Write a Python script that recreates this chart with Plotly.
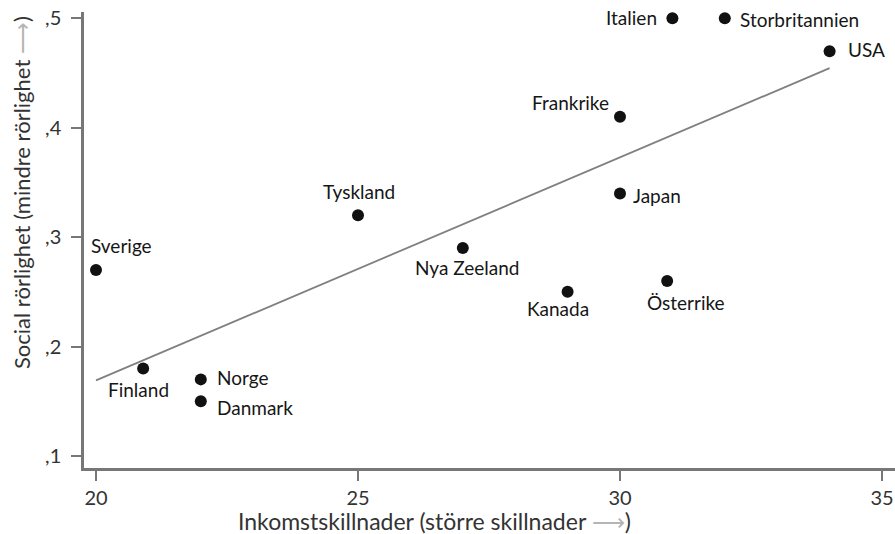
import numpy as np
import plotly.graph_objects as go

countries = ["Sverige", "Finland", "Norge", "Danmark", "Tyskland", "Nya Zeeland",
             "Kanada", "Österrike", "Japan", "Frankrike", "Italien", "Storbritannien", "USA"]
inequality = [20, 20.9, 22, 22, 25, 27, 29, 30.9, 30, 30, 31, 32, 34]
mobility = [0.27, 0.18, 0.17, 0.15, 0.32, 0.29, 0.25, 0.26, 0.34, 0.41, 0.50, 0.50, 0.47]

x_tickvals = [20, 25, 30, 35]
x_ticktext = ["20", "25", "30", "35"]
y_tickvals = [0.1, 0.2, 0.3, 0.4, 0.5]
y_ticktext = [",1", ",2", ",3", ",4", ",5"]

x_title = "Inkomstskillnader (större skillnader <span style='color:#b5b5b5'>⟶</span>)"
y_title = "Social rörlighet (mindre rörlighet <span style='color:#b5b5b5'>⟶</span>)"

# label placement (anchor, xshift, yshift) in pixels
label_pos = {
    "Sverige": ("left", -7, 24),
    "Finland": ("center", -5, -21),
    "Norge": ("left", 14, 2),
    "Danmark": ("left", 14, -6),
    "Tyskland": ("center", 1, 24),
    "Nya Zeeland": ("center", 4, -19),
    "Kanada": ("center", -10, -17),
    "Österrike": ("center", 19, -22),
    "Japan": ("left", 11, -2),
    "Frankrike": ("right", -9, 14),
    "Italien": ("right", -13, 1),
    "Storbritannien": ("left", 13, -1),
    "USA": ("left", 16, 2),
}

FONT = "Lato, 'Open Sans', sans-serif"

slope, intercept = np.polyfit(inequality, mobility, 1)
fx = [min(inequality), max(inequality)]
fy = [slope * v + intercept for v in fx]

fig = go.Figure()
fig.add_trace(go.Scatter(x=fx, y=fy, mode="lines",
                         line=dict(color="#808080", width=1.8),
                         hoverinfo="skip", showlegend=False))
fig.add_trace(go.Scatter(x=inequality, y=mobility, mode="markers",
                         marker=dict(size=12, color="#111111"),
                         text=countries, showlegend=False, cliponaxis=False))

for name, xv, yv in zip(countries, inequality, mobility):
    anchor, xs, ys = label_pos[name]
    fig.add_annotation(x=xv, y=yv, text=name, showarrow=False,
                       xanchor=anchor, yanchor="middle", xshift=xs, yshift=ys,
                       font=dict(family=FONT, size=19, color="#161616"))

# axis titles
fig.add_annotation(xref="paper", yref="paper", x=0.4316, y=0, yshift=-53,
                   text=x_title, showarrow=False, xanchor="center", yanchor="middle",
                   font=dict(family=FONT, size=23, color="#333333"))
fig.add_annotation(xref="paper", yref="paper", x=0, y=0.603, xshift=-63,
                   text=y_title, showarrow=False, textangle=-90,
                   xanchor="center", yanchor="middle",
                   font=dict(family=FONT, size=22, color="#333333"))

axis_common = dict(showgrid=False, zeroline=False, showline=True, linecolor="#777777",
                   linewidth=2.5, ticks="outside", ticklen=10, tickcolor="#777777",
                   tickwidth=1.6, automargin=False,
                   tickfont=dict(family=FONT, size=20, color="#333333"))

fig.update_layout(
    width=895, height=534,
    margin=dict(l=84, r=0, t=12, b=66),
    plot_bgcolor="white", paper_bgcolor="white",
    font=dict(family=FONT, size=18, color="#333333"),
    hovermode=False,
    xaxis=dict(range=[19.771, 35.248], tickvals=x_tickvals, ticktext=x_ticktext,
               ticklabelstandoff=0, **axis_common),
    yaxis=dict(range=[0.089, 0.5058], tickvals=y_tickvals, ticktext=y_ticktext,
               ticklabelstandoff=6, **axis_common),
)

fig.write_html("out.html",
               config={"displayModeBar": False},
               post_script="document.body.style.margin='0';document.body.style.overflow='hidden';")
